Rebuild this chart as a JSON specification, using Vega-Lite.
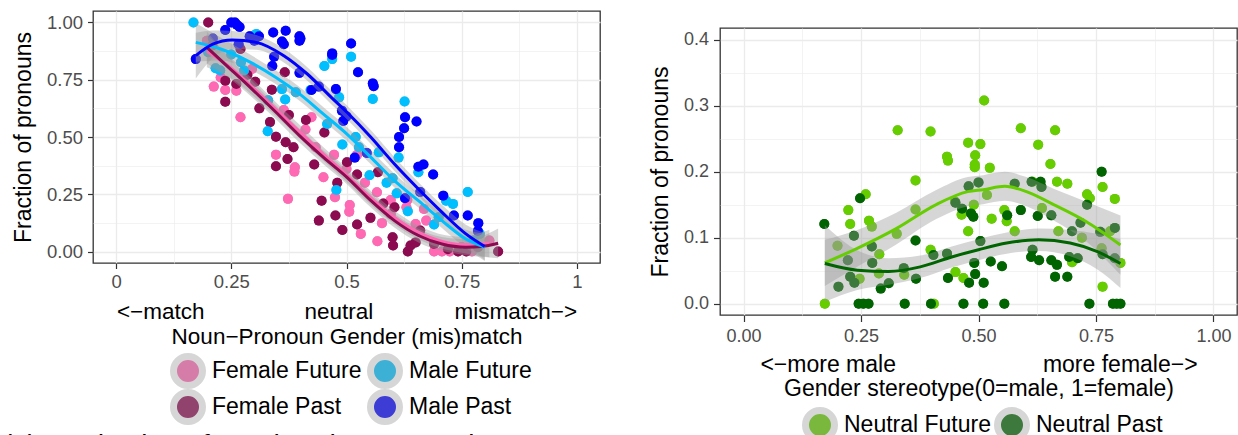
{
  "$schema": "https://vega.github.io/schema/vega-lite/v6.json",
  "background": "white",
  "padding": {"left": 2, "top": 10, "right": 0, "bottom": 0},
  "spacing": 47,
  "resolve": {"scale": {"color": "independent", "stroke": "independent", "fill": "independent"}, "legend": {"color": "independent"}},
  "title": {"text": "(a) Production of gendered pronouns by", "orient": "bottom", "anchor": "start", "fontSize": 28, "fontWeight": "normal", "font": "Liberation Sans", "color": "#000000", "offset": 0, "dx": -9, "dy": -12},
  "config": {
    "font": "Liberation Sans",
    "view": {"stroke": "#333333", "strokeWidth": 1.3},
    "axis": {"domain": false, "gridColor": "#EBEBEB", "tickColor": "#333333", "tickWidth": 1.2, "labelFont": "Liberation Sans", "labelColor": "#4D4D4D", "titleFont": "Liberation Sans", "titleFontWeight": "normal", "titleColor": "#000000"}
  },
  "datasets": {
    "leftPoints": [
      {"g":"Female Future","x":0.212,"y":0.72},{"g":"Female Future","x":0.237,"y":0.705},{"g":"Female Future","x":0.27,"y":0.586},{"g":"Female Future","x":0.347,"y":0.423},{"g":"Female Future","x":0.388,"y":0.368},{"g":"Female Future","x":0.387,"y":0.349},{"g":"Female Future","x":0.373,"y":0.23},{"g":"Female Future","x":0.411,"y":0.533},{"g":"Female Future","x":0.364,"y":0.618},{"g":"Female Future","x":0.424,"y":0.586},{"g":"Female Future","x":0.433,"y":0.455},{"g":"Female Future","x":0.473,"y":0.422},{"g":"Female Future","x":0.475,"y":0.237},{"g":"Female Future","x":0.507,"y":0.203},{"g":"Female Future","x":0.506,"y":0.174},{"g":"Female Future","x":0.523,"y":0.422},{"g":"Female Future","x":0.531,"y":0.077},{"g":"Female Future","x":0.567,"y":0.045},{"g":"Female Future","x":0.577,"y":0.124},{"g":"Female Future","x":0.596,"y":0.225},{"g":"Female Future","x":0.632,"y":0.225},{"g":"Female Future","x":0.63,"y":0.193},{"g":"Female Future","x":0.668,"y":0.186},{"g":"Female Future","x":0.673,"y":0.135},{"g":"Female Future","x":0.69,"y":0.0},{"g":"Female Future","x":0.707,"y":0.0},{"g":"Female Future","x":0.724,"y":0.0},{"g":"Female Future","x":0.772,"y":0.0},{"g":"Female Future","x":0.81,"y":0.048},{"g":"Female Future","x":0.45,"y":0.324},{"g":"Female Future","x":0.566,"y":0.259},{"g":"Female Future","x":0.596,"y":0.164},{"g":"Female Future","x":0.261,"y":0.702},{"g":"Female Future","x":0.295,"y":0.797},{"g":"Female Future","x":0.197,"y":0.92},{"g":"Female Future","x":0.227,"y":0.76},{"g":"Female Future","x":0.5,"y":0.36},{"g":"Female Future","x":0.54,"y":0.3},{"g":"Female Future","x":0.65,"y":0.12},{"g":"Female Future","x":0.75,"y":0.02},
      {"g":"Female Past","x":0.2,"y":1.0},{"g":"Female Past","x":0.237,"y":0.746},{"g":"Female Past","x":0.237,"y":0.654},{"g":"Female Past","x":0.261,"y":0.731},{"g":"Female Past","x":0.285,"y":0.772},{"g":"Female Past","x":0.302,"y":0.741},{"g":"Female Past","x":0.338,"y":0.706},{"g":"Female Past","x":0.366,"y":0.783},{"g":"Female Past","x":0.311,"y":0.625},{"g":"Female Past","x":0.334,"y":0.565},{"g":"Female Past","x":0.347,"y":0.501},{"g":"Female Past","x":0.347,"y":0.372},{"g":"Female Past","x":0.368,"y":0.477},{"g":"Female Past","x":0.375,"y":0.596},{"g":"Female Past","x":0.412,"y":0.574},{"g":"Female Past","x":0.385,"y":0.455},{"g":"Female Past","x":0.372,"y":0.404},{"g":"Female Past","x":0.452,"y":0.52},{"g":"Female Past","x":0.446,"y":0.222},{"g":"Female Past","x":0.44,"y":0.135},{"g":"Female Past","x":0.476,"y":0.157},{"g":"Female Past","x":0.491,"y":0.094},{"g":"Female Past","x":0.501,"y":0.39},{"g":"Female Past","x":0.523,"y":0.336},{"g":"Female Past","x":0.568,"y":0.346},{"g":"Female Past","x":0.552,"y":0.147},{"g":"Female Past","x":0.523,"y":0.118},{"g":"Female Past","x":0.6,"y":0.0625},{"g":"Female Past","x":0.601,"y":0.026},{"g":"Female Past","x":0.633,"y":0.0},{"g":"Female Past","x":0.639,"y":0.026},{"g":"Female Past","x":0.66,"y":0.092},{"g":"Female Past","x":0.69,"y":0.033},{"g":"Female Past","x":0.742,"y":0.0},{"g":"Female Past","x":0.785,"y":0.019},{"g":"Female Past","x":0.829,"y":0.0},{"g":"Female Past","x":0.209,"y":0.9},{"g":"Female Past","x":0.27,"y":0.884},{"g":"Female Past","x":0.604,"y":0.193},{"g":"Female Past","x":0.48,"y":0.3},{"g":"Female Past","x":0.43,"y":0.38},{"g":"Female Past","x":0.72,"y":0.01},{"g":"Female Past","x":0.76,"y":0.0},{"g":"Female Past","x":0.58,"y":0.21},{"g":"Female Past","x":0.65,"y":0.04},
      {"g":"Male Future","x":0.168,"y":1.0},{"g":"Male Future","x":0.304,"y":0.95},{"g":"Male Future","x":0.452,"y":0.81},{"g":"Male Future","x":0.469,"y":0.84},{"g":"Male Future","x":0.51,"y":0.85},{"g":"Male Future","x":0.557,"y":0.666},{"g":"Male Future","x":0.626,"y":0.655},{"g":"Male Future","x":0.367,"y":0.664},{"g":"Male Future","x":0.36,"y":0.709},{"g":"Male Future","x":0.33,"y":0.66},{"g":"Male Future","x":0.329,"y":0.525},{"g":"Male Future","x":0.478,"y":0.269},{"g":"Male Future","x":0.491,"y":0.467},{"g":"Male Future","x":0.55,"y":0.333},{"g":"Male Future","x":0.763,"y":0.26},{"g":"Male Future","x":0.731,"y":0.208},{"g":"Male Future","x":0.633,"y":0.176},{"g":"Male Future","x":0.69,"y":0.118},{"g":"Male Future","x":0.216,"y":0.8},{"g":"Male Future","x":0.226,"y":0.79},{"g":"Male Future","x":0.271,"y":0.826},{"g":"Male Future","x":0.278,"y":0.79},{"g":"Male Future","x":0.39,"y":0.695},{"g":"Male Future","x":0.422,"y":0.705},{"g":"Male Future","x":0.458,"y":0.557},{"g":"Male Future","x":0.527,"y":0.455},{"g":"Male Future","x":0.57,"y":0.433},{"g":"Male Future","x":0.613,"y":0.41},{"g":"Male Future","x":0.656,"y":0.346},{"g":"Male Future","x":0.716,"y":0.222},{"g":"Male Future","x":0.789,"y":0.077},{"g":"Male Future","x":0.776,"y":0.048},{"g":"Male Future","x":0.587,"y":0.3},{"g":"Male Future","x":0.609,"y":0.254},{"g":"Male Future","x":0.484,"y":0.673},{"g":"Male Future","x":0.2,"y":0.87},{"g":"Male Future","x":0.25,"y":0.86},{"g":"Male Future","x":0.52,"y":0.5},{"g":"Male Future","x":0.6,"y":0.32},{"g":"Male Future","x":0.7,"y":0.15},
      {"g":"Male Past","x":0.173,"y":0.84},{"g":"Male Past","x":0.25,"y":1.0},{"g":"Male Past","x":0.258,"y":1.0},{"g":"Male Past","x":0.262,"y":0.99},{"g":"Male Past","x":0.268,"y":0.98},{"g":"Male Past","x":0.237,"y":0.967},{"g":"Male Past","x":0.341,"y":0.956},{"g":"Male Past","x":0.368,"y":0.964},{"g":"Male Past","x":0.398,"y":0.94},{"g":"Male Past","x":0.398,"y":0.92},{"g":"Male Past","x":0.4,"y":0.93},{"g":"Male Past","x":0.36,"y":0.917},{"g":"Male Past","x":0.364,"y":0.905},{"g":"Male Past","x":0.29,"y":0.94},{"g":"Male Past","x":0.31,"y":0.94},{"g":"Male Past","x":0.266,"y":0.905},{"g":"Male Past","x":0.51,"y":0.908},{"g":"Male Past","x":0.469,"y":0.865},{"g":"Male Past","x":0.469,"y":0.858},{"g":"Male Past","x":0.525,"y":0.783},{"g":"Male Past","x":0.477,"y":0.709},{"g":"Male Past","x":0.557,"y":0.734},{"g":"Male Past","x":0.559,"y":0.722},{"g":"Male Past","x":0.627,"y":0.586},{"g":"Male Past","x":0.652,"y":0.568},{"g":"Male Past","x":0.625,"y":0.538},{"g":"Male Past","x":0.614,"y":0.5},{"g":"Male Past","x":0.614,"y":0.455},{"g":"Male Past","x":0.667,"y":0.38},{"g":"Male Past","x":0.656,"y":0.37},{"g":"Male Past","x":0.688,"y":0.336},{"g":"Male Past","x":0.71,"y":0.244},{"g":"Male Past","x":0.763,"y":0.157},{"g":"Male Past","x":0.786,"y":0.124},{"g":"Male Past","x":0.49,"y":0.615},{"g":"Male Past","x":0.5,"y":0.59},{"g":"Male Past","x":0.493,"y":0.57},{"g":"Male Past","x":0.398,"y":0.78},{"g":"Male Past","x":0.424,"y":0.705},{"g":"Male Past","x":0.343,"y":0.85},{"g":"Male Past","x":0.339,"y":0.81},{"g":"Male Past","x":0.544,"y":0.43},{"g":"Male Past","x":0.518,"y":0.41},{"g":"Male Past","x":0.627,"y":0.233},{"g":"Male Past","x":0.66,"y":0.26},{"g":"Male Past","x":0.733,"y":0.157},{"g":"Male Past","x":0.785,"y":0.09},{"g":"Male Past","x":0.44,"y":0.72},{"g":"Male Past","x":0.3,"y":0.92},{"g":"Male Past","x":0.21,"y":0.93}
    ],
    "leftCurves": [
      {"g":"Female Future","x":0.197,"fit":0.875,"lo":0.805,"hi":0.945},{"g":"Female Future","x":0.25,"fit":0.8,"lo":0.755,"hi":0.845},{"g":"Female Future","x":0.3,"fit":0.71,"lo":0.675,"hi":0.745},{"g":"Female Future","x":0.35,"fit":0.615,"lo":0.585,"hi":0.645},{"g":"Female Future","x":0.4,"fit":0.52,"lo":0.49,"hi":0.55},{"g":"Female Future","x":0.45,"fit":0.425,"lo":0.395,"hi":0.455},{"g":"Female Future","x":0.5,"fit":0.335,"lo":0.305,"hi":0.365},{"g":"Female Future","x":0.55,"fit":0.24,"lo":0.21,"hi":0.27},{"g":"Female Future","x":0.6,"fit":0.155,"lo":0.125,"hi":0.185},{"g":"Female Future","x":0.65,"fit":0.09,"lo":0.06,"hi":0.12},{"g":"Female Future","x":0.7,"fit":0.048,"lo":0.018,"hi":0.078},{"g":"Female Future","x":0.75,"fit":0.03,"lo":-0.005,"hi":0.065},{"g":"Female Future","x":0.81,"fit":0.035,"lo":-0.025,"hi":0.095},
      {"g":"Female Past","x":0.197,"fit":0.891,"lo":0.821,"hi":0.961},{"g":"Female Past","x":0.244,"fit":0.804,"lo":0.759,"hi":0.849},{"g":"Female Past","x":0.295,"fit":0.709,"lo":0.674,"hi":0.744},{"g":"Female Past","x":0.347,"fit":0.608,"lo":0.578,"hi":0.638},{"g":"Female Past","x":0.398,"fit":0.506,"lo":0.476,"hi":0.536},{"g":"Female Past","x":0.45,"fit":0.411,"lo":0.381,"hi":0.441},{"g":"Female Past","x":0.501,"fit":0.324,"lo":0.294,"hi":0.354},{"g":"Female Past","x":0.553,"fit":0.222,"lo":0.192,"hi":0.252},{"g":"Female Past","x":0.604,"fit":0.135,"lo":0.105,"hi":0.165},{"g":"Female Past","x":0.656,"fit":0.07,"lo":0.04,"hi":0.1},{"g":"Female Past","x":0.707,"fit":0.033,"lo":0.003,"hi":0.063},{"g":"Female Past","x":0.759,"fit":0.019,"lo":-0.016,"hi":0.054},{"g":"Female Past","x":0.793,"fit":0.022,"lo":-0.023,"hi":0.067},{"g":"Female Past","x":0.829,"fit":0.036,"lo":-0.029,"hi":0.101},
      {"g":"Male Future","x":0.173,"fit":0.913,"lo":0.828,"hi":0.998},{"g":"Male Future","x":0.227,"fit":0.884,"lo":0.834,"hi":0.934},{"g":"Male Future","x":0.278,"fit":0.84,"lo":0.805,"hi":0.875},{"g":"Male Future","x":0.347,"fit":0.76,"lo":0.73,"hi":0.79},{"g":"Male Future","x":0.398,"fit":0.688,"lo":0.658,"hi":0.718},{"g":"Male Future","x":0.45,"fit":0.6,"lo":0.57,"hi":0.63},{"g":"Male Future","x":0.501,"fit":0.513,"lo":0.483,"hi":0.543},{"g":"Male Future","x":0.553,"fit":0.411,"lo":0.381,"hi":0.441},{"g":"Male Future","x":0.604,"fit":0.31,"lo":0.28,"hi":0.34},{"g":"Male Future","x":0.656,"fit":0.222,"lo":0.192,"hi":0.252},{"g":"Male Future","x":0.707,"fit":0.135,"lo":0.103,"hi":0.167},{"g":"Male Future","x":0.759,"fit":0.055,"lo":0.015,"hi":0.095},{"g":"Male Future","x":0.8,"fit":0.019,"lo":-0.041,"hi":0.079},
      {"g":"Male Past","x":0.173,"fit":0.855,"lo":0.755,"hi":0.955},{"g":"Male Past","x":0.21,"fit":0.905,"lo":0.845,"hi":0.965},{"g":"Male Past","x":0.252,"fit":0.923,"lo":0.883,"hi":0.963},{"g":"Male Past","x":0.304,"fit":0.913,"lo":0.881,"hi":0.945},{"g":"Male Past","x":0.364,"fit":0.855,"lo":0.825,"hi":0.885},{"g":"Male Past","x":0.415,"fit":0.775,"lo":0.745,"hi":0.805},{"g":"Male Past","x":0.467,"fit":0.673,"lo":0.643,"hi":0.703},{"g":"Male Past","x":0.501,"fit":0.608,"lo":0.578,"hi":0.638},{"g":"Male Past","x":0.553,"fit":0.499,"lo":0.469,"hi":0.529},{"g":"Male Past","x":0.604,"fit":0.382,"lo":0.352,"hi":0.412},{"g":"Male Past","x":0.656,"fit":0.273,"lo":0.243,"hi":0.303},{"g":"Male Past","x":0.707,"fit":0.172,"lo":0.14,"hi":0.204},{"g":"Male Past","x":0.759,"fit":0.077,"lo":0.037,"hi":0.117},{"g":"Male Past","x":0.8,"fit":0.022,"lo":-0.038,"hi":0.082}
    ],
    "rightPoints": [
      {"g":"Neutral Future","x":0.512,"y":0.308},{"g":"Neutral Future","x":0.328,"y":0.263},{"g":"Neutral Future","x":0.398,"y":0.261},{"g":"Neutral Future","x":0.59,"y":0.266},{"g":"Neutral Future","x":0.663,"y":0.263},{"g":"Neutral Future","x":0.478,"y":0.244},{"g":"Neutral Future","x":0.504,"y":0.242},{"g":"Neutral Future","x":0.627,"y":0.241},{"g":"Neutral Future","x":0.433,"y":0.223},{"g":"Neutral Future","x":0.435,"y":0.217},{"g":"Neutral Future","x":0.493,"y":0.225},{"g":"Neutral Future","x":0.492,"y":0.211},{"g":"Neutral Future","x":0.492,"y":0.207},{"g":"Neutral Future","x":0.524,"y":0.206},{"g":"Neutral Future","x":0.653,"y":0.212},{"g":"Neutral Future","x":0.366,"y":0.187},{"g":"Neutral Future","x":0.667,"y":0.185},{"g":"Neutral Future","x":0.689,"y":0.182},{"g":"Neutral Future","x":0.26,"y":0.166},{"g":"Neutral Future","x":0.731,"y":0.166},{"g":"Neutral Future","x":0.737,"y":0.16},{"g":"Neutral Future","x":0.764,"y":0.177},{"g":"Neutral Future","x":0.79,"y":0.159},{"g":"Neutral Future","x":0.223,"y":0.142},{"g":"Neutral Future","x":0.227,"y":0.121},{"g":"Neutral Future","x":0.267,"y":0.126},{"g":"Neutral Future","x":0.273,"y":0.117},{"g":"Neutral Future","x":0.464,"y":0.135},{"g":"Neutral Future","x":0.528,"y":0.129},{"g":"Neutral Future","x":0.56,"y":0.125},{"g":"Neutral Future","x":0.555,"y":0.142},{"g":"Neutral Future","x":0.478,"y":0.11},{"g":"Neutral Future","x":0.577,"y":0.11},{"g":"Neutral Future","x":0.49,"y":0.15},{"g":"Neutral Future","x":0.289,"y":0.075},{"g":"Neutral Future","x":0.398,"y":0.082},{"g":"Neutral Future","x":0.451,"y":0.048},{"g":"Neutral Future","x":0.468,"y":0.039},{"g":"Neutral Future","x":0.699,"y":0.063},{"g":"Neutral Future","x":0.802,"y":0.062},{"g":"Neutral Future","x":0.764,"y":0.026},{"g":"Neutral Future","x":0.173,"y":0.0},{"g":"Neutral Future","x":0.405,"y":0.0},{"g":"Neutral Future","x":0.762,"y":0.084},{"g":"Neutral Future","x":0.518,"y":0.165},{"g":"Neutral Future","x":0.615,"y":0.185},{"g":"Neutral Future","x":0.342,"y":0.044},{"g":"Neutral Future","x":0.288,"y":0.046},{"g":"Neutral Future","x":0.247,"y":0.038},{"g":"Neutral Future","x":0.366,"y":0.143},{"g":"Neutral Future","x":0.326,"y":0.106},{"g":"Neutral Future","x":0.45,"y":0.155},{"g":"Neutral Future","x":0.2,"y":0.088},{"g":"Neutral Future","x":0.635,"y":0.145},{"g":"Neutral Future","x":0.67,"y":0.11},{"g":"Neutral Future","x":0.72,"y":0.1},{"g":"Neutral Future","x":0.78,"y":0.11},
      {"g":"Neutral Past","x":0.172,"y":0.121},{"g":"Neutral Past","x":0.248,"y":0.16},{"g":"Neutral Past","x":0.366,"y":0.096},{"g":"Neutral Past","x":0.479,"y":0.178},{"g":"Neutral Past","x":0.5,"y":0.184},{"g":"Neutral Past","x":0.484,"y":0.137},{"g":"Neutral Past","x":0.489,"y":0.132},{"g":"Neutral Past","x":0.561,"y":0.134},{"g":"Neutral Past","x":0.59,"y":0.142},{"g":"Neutral Past","x":0.577,"y":0.182},{"g":"Neutral Past","x":0.632,"y":0.185},{"g":"Neutral Past","x":0.626,"y":0.133},{"g":"Neutral Past","x":0.655,"y":0.134},{"g":"Neutral Past","x":0.762,"y":0.2},{"g":"Neutral Past","x":0.731,"y":0.15},{"g":"Neutral Past","x":0.699,"y":0.11},{"g":"Neutral Past","x":0.693,"y":0.071},{"g":"Neutral Past","x":0.711,"y":0.069},{"g":"Neutral Past","x":0.79,"y":0.115},{"g":"Neutral Past","x":0.759,"y":0.109},{"g":"Neutral Past","x":0.615,"y":0.082},{"g":"Neutral Past","x":0.629,"y":0.066},{"g":"Neutral Past","x":0.655,"y":0.066},{"g":"Neutral Past","x":0.667,"y":0.059},{"g":"Neutral Past","x":0.663,"y":0.041},{"g":"Neutral Past","x":0.689,"y":0.041},{"g":"Neutral Past","x":0.612,"y":0.071},{"g":"Neutral Past","x":0.55,"y":0.057},{"g":"Neutral Past","x":0.526,"y":0.064},{"g":"Neutral Past","x":0.504,"y":0.095},{"g":"Neutral Past","x":0.491,"y":0.062},{"g":"Neutral Past","x":0.493,"y":0.045},{"g":"Neutral Past","x":0.511,"y":0.032},{"g":"Neutral Past","x":0.48,"y":0.032},{"g":"Neutral Past","x":0.435,"y":0.039},{"g":"Neutral Past","x":0.433,"y":0.076},{"g":"Neutral Past","x":0.404,"y":0.074},{"g":"Neutral Past","x":0.367,"y":0.038},{"g":"Neutral Past","x":0.341,"y":0.054},{"g":"Neutral Past","x":0.309,"y":0.031},{"g":"Neutral Past","x":0.292,"y":0.023},{"g":"Neutral Past","x":0.274,"y":0.062},{"g":"Neutral Past","x":0.273,"y":0.087},{"g":"Neutral Past","x":0.227,"y":0.041},{"g":"Neutral Past","x":0.236,"y":0.032},{"g":"Neutral Past","x":0.202,"y":0.026},{"g":"Neutral Past","x":0.222,"y":0.066},{"g":"Neutral Past","x":0.235,"y":0.103},{"g":"Neutral Past","x":0.451,"y":0.153},{"g":"Neutral Past","x":0.465,"y":0.144},{"g":"Neutral Past","x":0.613,"y":0.185},{"g":"Neutral Past","x":0.634,"y":0.177},{"g":"Neutral Past","x":0.717,"y":0.123},{"g":"Neutral Past","x":0.764,"y":0.075},{"g":"Neutral Past","x":0.79,"y":0.069},{"g":"Neutral Past","x":0.245,"y":0.0},{"g":"Neutral Past","x":0.255,"y":0.0},{"g":"Neutral Past","x":0.266,"y":0.0},{"g":"Neutral Past","x":0.343,"y":0.0},{"g":"Neutral Past","x":0.399,"y":0.0},{"g":"Neutral Past","x":0.468,"y":0.0},{"g":"Neutral Past","x":0.51,"y":0.0},{"g":"Neutral Past","x":0.555,"y":0.0},{"g":"Neutral Past","x":0.736,"y":0.0},{"g":"Neutral Past","x":0.786,"y":0.0},{"g":"Neutral Past","x":0.794,"y":0.0},{"g":"Neutral Past","x":0.802,"y":0.0}
    ],
    "rightCurves": [
      {"g":"Neutral Future","x":0.173,"fit":0.062,"lo":0.027,"hi":0.097},{"g":"Neutral Future","x":0.242,"fit":0.084,"lo":0.056,"hi":0.112},{"g":"Neutral Future","x":0.325,"fit":0.114,"lo":0.09,"hi":0.138},{"g":"Neutral Future","x":0.409,"fit":0.15,"lo":0.128,"hi":0.172},{"g":"Neutral Future","x":0.477,"fit":0.17,"lo":0.148,"hi":0.192},{"g":"Neutral Future","x":0.51,"fit":0.173,"lo":0.151,"hi":0.195},{"g":"Neutral Future","x":0.556,"fit":0.178,"lo":0.156,"hi":0.2},{"g":"Neutral Future","x":0.602,"fit":0.17,"lo":0.148,"hi":0.192},{"g":"Neutral Future","x":0.661,"fit":0.15,"lo":0.126,"hi":0.174},{"g":"Neutral Future","x":0.728,"fit":0.125,"lo":0.095,"hi":0.155},{"g":"Neutral Future","x":0.802,"fit":0.089,"lo":0.044,"hi":0.134},
      {"g":"Neutral Past","x":0.173,"fit":0.061,"lo":0.003,"hi":0.119},{"g":"Neutral Past","x":0.242,"fit":0.051,"lo":0.021,"hi":0.081},{"g":"Neutral Past","x":0.309,"fit":0.049,"lo":0.029,"hi":0.069},{"g":"Neutral Past","x":0.376,"fit":0.056,"lo":0.039,"hi":0.073},{"g":"Neutral Past","x":0.443,"fit":0.071,"lo":0.055,"hi":0.087},{"g":"Neutral Past","x":0.5,"fit":0.082,"lo":0.066,"hi":0.098},{"g":"Neutral Past","x":0.56,"fit":0.092,"lo":0.076,"hi":0.108},{"g":"Neutral Past","x":0.628,"fit":0.097,"lo":0.08,"hi":0.114},{"g":"Neutral Past","x":0.695,"fit":0.092,"lo":0.072,"hi":0.112},{"g":"Neutral Past","x":0.753,"fit":0.079,"lo":0.052,"hi":0.106},{"g":"Neutral Past","x":0.802,"fit":0.061,"lo":0.024,"hi":0.098}
    ]
  },
  "hconcat": [
    {
      "width": 507,
      "height": 252,
      "encoding": {
        "x": {"type": "quantitative", "scale": {"domain": [-0.05, 1.05], "nice": false, "zero": false},
          "axis": {"values": [0,0.125,0.25,0.375,0.5,0.625,0.75,0.875,1], "format": ".3~f",
            "labelExpr": "abs(datum.value*4-round(datum.value*4))>0.01 ? '' : datum.label",
            "gridWidth": {"condition": {"test": "abs(datum.value*4-round(datum.value*4))>0.01", "value": 0.6}, "value": 1.3},
            "tickOpacity": {"condition": {"test": "abs(datum.value*4-round(datum.value*4))>0.01", "value": 0}, "value": 1},
            "tickSize": 5.5, "labelPadding": 4, "labelFontSize": 18.5, "titleFontSize": 22.5, "titleLineHeight": 25, "titlePadding": 9,
            "title": ["<−match\u00a0\u00a0\u00a0\u00a0\u00a0\u00a0\u00a0\u00a0\u00a0\u00a0\u00a0\u00a0\u00a0\u00a0\u00a0\u00a0neutral\u00a0\u00a0\u00a0\u00a0\u00a0\u00a0\u00a0\u00a0\u00a0\u00a0\u00a0\u00a0\u00a0mismatch−>", "Noun−Pronoun Gender (mis)match"]}},
        "y": {"type": "quantitative", "scale": {"domain": [-0.05, 1.05], "nice": false, "zero": false},
          "axis": {"values": [0,0.125,0.25,0.375,0.5,0.625,0.75,0.875,1], "format": ".2f",
            "labelExpr": "abs(datum.value*4-round(datum.value*4))>0.01 ? '' : datum.label",
            "gridWidth": {"condition": {"test": "abs(datum.value*4-round(datum.value*4))>0.01", "value": 0.6}, "value": 1.3},
            "tickOpacity": {"condition": {"test": "abs(datum.value*4-round(datum.value*4))>0.01", "value": 0}, "value": 1},
            "tickSize": 5.5, "labelPadding": 5, "labelFontSize": 18.5, "titleFontSize": 23, "titlePadding": 11,
            "title": "Fraction of pronouns"}}
      },
      "layer": [
        {
          "data": {"name": "leftPoints"},
          "mark": {"type": "circle", "size": 100, "opacity": 1, "clip": true},
          "encoding": {
            "x": {"field": "x"},
            "y": {"field": "y"},
            "color": {"field": "g", "type": "nominal",
              "scale": {"domain": ["Female Future","Male Future","Female Past","Male Past"], "range": ["#D67CA9","#3DB0D6","#91436D","#3D3DD6"]},
              "legend": {"orient": "none", "legendX": 77, "legendY": 342, "direction": "horizontal", "columns": 2, "title": null,
                "symbolType": "circle", "symbolSize": 841, "symbolStrokeWidth": 7, "symbolStrokeColor": "#D6D6D6", "clipHeight": 36,
                "labelFontSize": 23, "labelFont": "Liberation Sans", "labelColor": "#000000", "labelOffset": 6, "columnPadding": 5, "rowPadding": 0}}
          }
        },
        {
          "data": {"name": "leftPoints"},
          "mark": {"type": "circle", "size": 100, "opacity": 1, "clip": true},
          "encoding": {
            "x": {"field": "x"},
            "y": {"field": "y"},
            "fill": {"field": "g", "type": "nominal", "legend": null,
              "scale": {"domain": ["Female Future","Female Past","Male Future","Male Past"], "range": ["#FF69B4","#8B0A50","#00BFFF","#0000FF"]}}
          }
        },
        {
          "mark": {"type": "rule", "color": "#000000", "strokeWidth": 1.6},
          "encoding": {"x": {"datum": 0.5}}
        },
        {
          "mark": {"type": "rule", "color": "#000000", "strokeWidth": 1.6},
          "encoding": {"y": {"datum": 0.5}}
        },
        {
          "data": {"name": "leftCurves"},
          "mark": {"type": "area", "color": "#999999", "opacity": 0.4, "interpolate": "monotone", "clip": true},
          "encoding": {"x": {"field": "x"}, "y": {"field": "lo"}, "y2": {"field": "hi"}, "detail": {"field": "g"}}
        },
        {
          "data": {"name": "leftCurves"},
          "mark": {"type": "line", "strokeWidth": 3, "interpolate": "monotone", "clip": true},
          "encoding": {"x": {"field": "x"}, "y": {"field": "fit"},
            "stroke": {"field": "g", "type": "nominal", "legend": null,
              "scale": {"domain": ["Male Past","Male Future","Female Past","Female Future"], "range": ["#0000FF","#00BFFF","#8B0A50","#FF69B4"]}}}
        }
      ]
    },
    {
      "spacing": 15,
      "resolve": {"scale": {"color": "independent", "stroke": "independent", "fill": "independent"}, "legend": {"color": "independent"}},
      "vconcat": [
        {
          "width": 517,
          "height": 1,
          "view": {"stroke": null},
          "data": {"values": []},
          "mark": "point"
        },
        {
          "width": 517,
          "height": 287,
          "encoding": {
            "x": {"type": "quantitative", "scale": {"domain": [-0.05, 1.05], "nice": false, "zero": false},
              "axis": {"values": [0,0.125,0.25,0.375,0.5,0.625,0.75,0.875,1], "format": ".2f",
                "labelExpr": "abs(datum.value*4-round(datum.value*4))>0.01 ? '' : datum.label",
                "gridWidth": {"condition": {"test": "abs(datum.value*4-round(datum.value*4))>0.01", "value": 0.6}, "value": 1.3},
                "tickOpacity": {"condition": {"test": "abs(datum.value*4-round(datum.value*4))>0.01", "value": 0}, "value": 1},
                "tickSize": 6.5, "labelPadding": 6, "labelFontSize": 18, "titleFontSize": 23, "titleLineHeight": 24, "titlePadding": 8,
                "title": ["<−more male\u00a0\u00a0\u00a0\u00a0\u00a0\u00a0\u00a0\u00a0\u00a0\u00a0\u00a0\u00a0\u00a0\u00a0\u00a0\u00a0\u00a0\u00a0\u00a0\u00a0\u00a0\u00a0\u00a0more female−>", "Gender stereotype(0=male, 1=female)"]}},
            "y": {"type": "quantitative", "scale": {"domain": [-0.017, 0.418], "nice": false, "zero": false},
              "axis": {"values": [0,0.05,0.1,0.15,0.2,0.25,0.3,0.35,0.4], "format": ".1f",
                "labelExpr": "abs(datum.value*10-round(datum.value*10))>0.01 ? '' : datum.label",
                "gridWidth": {"condition": {"test": "abs(datum.value*10-round(datum.value*10))>0.01", "value": 0.6}, "value": 1.3},
                "tickOpacity": {"condition": {"test": "abs(datum.value*10-round(datum.value*10))>0.01", "value": 0}, "value": 1},
                "tickSize": 6.5, "labelPadding": 5, "labelFontSize": 18, "titleFontSize": 23, "titlePadding": 11,
                "title": "Fraction of pronouns"}}
          },
          "layer": [
            {
              "data": {"name": "rightPoints"},
              "mark": {"type": "circle", "size": 100, "opacity": 1, "clip": true},
              "encoding": {
                "x": {"field": "x"},
                "y": {"field": "y"},
                "color": {"field": "g", "type": "nominal",
                  "scale": {"domain": ["Neutral Future","Neutral Past"], "range": ["#7AB83D","#3D793D"]},
                  "legend": {"orient": "none", "legendX": 82, "legendY": 379, "direction": "horizontal", "columns": 2, "title": null,
                    "symbolType": "circle", "symbolSize": 841, "symbolStrokeWidth": 7, "symbolStrokeColor": "#D6D6D6", "clipHeight": 36,
                    "labelFontSize": 23, "labelFont": "Liberation Sans", "labelColor": "#000000", "labelOffset": 6, "columnPadding": 2, "rowPadding": 0}}
              }
            },
            {
              "data": {"name": "rightPoints"},
              "mark": {"type": "circle", "size": 100, "opacity": 1, "clip": true},
              "encoding": {
                "x": {"field": "x"},
                "y": {"field": "y"},
                "fill": {"field": "g", "type": "nominal", "legend": null,
                  "scale": {"domain": ["Neutral Past","Neutral Future"], "range": ["#006400","#66CD00"]}}
              }
            },
            {
              "mark": {"type": "rule", "color": "#000000", "strokeWidth": 1.6},
              "encoding": {"x": {"datum": 0.5}}
            },
            {
              "data": {"name": "rightCurves"},
              "mark": {"type": "area", "color": "#999999", "opacity": 0.4, "interpolate": "monotone", "clip": true},
              "encoding": {"x": {"field": "x"}, "y": {"field": "lo"}, "y2": {"field": "hi"}, "detail": {"field": "g"}}
            },
            {
              "data": {"name": "rightCurves"},
              "mark": {"type": "line", "strokeWidth": 3, "interpolate": "monotone", "clip": true},
              "encoding": {"x": {"field": "x"}, "y": {"field": "fit"},
                "stroke": {"field": "g", "type": "nominal", "legend": null,
                  "scale": {"domain": ["Neutral Past","Neutral Future","Other"], "range": ["#006400","#66CD00","#000000"]}}}
            }
          ]
        }
      ]
    }
  ]
}
